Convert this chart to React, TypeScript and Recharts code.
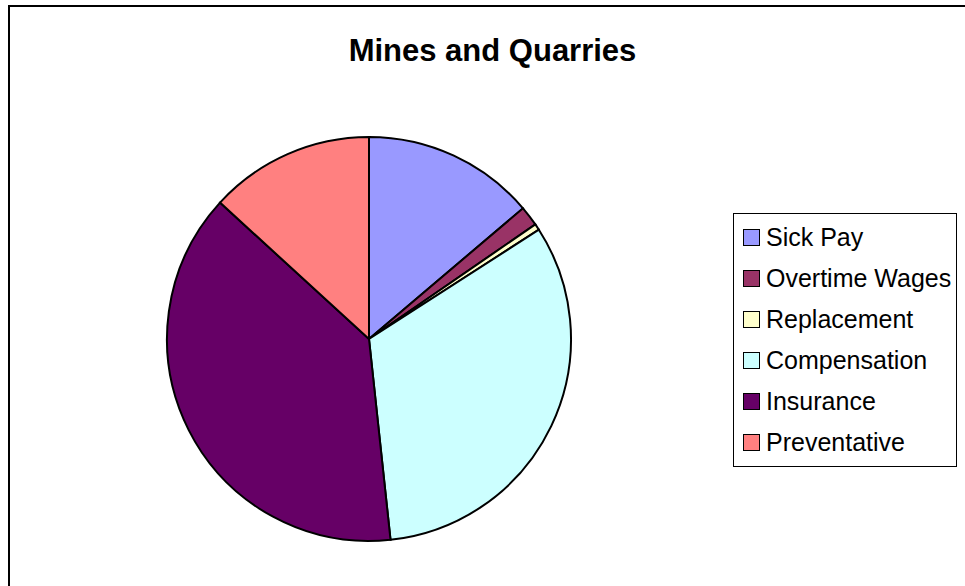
import React from 'react';
import { PieChart, Pie, Cell, Legend } from 'recharts';

const categories = ['Sick Pay', 'Overtime Wages', 'Replacement', 'Compensation', 'Insurance', 'Preventative'];
const shares = [13.8, 1.6, 0.5, 32.4, 38.5, 13.2];
const colors = ['#9999FF', '#993366', '#FFFFCC', '#CCFFFF', '#660066', '#FF8080'];

const data = categories.map((name, i) => ({ name, value: shares[i] }));

const renderLegend = () => (
  <div
    style={{
      border: '1px solid #000',
      background: '#fff',
      width: 224,
      height: 254,
      boxSizing: 'border-box',
      padding: '3px 0 0 9px',
      fontFamily: '"Liberation Sans", Arial, sans-serif',
      fontSize: 25,
      color: '#000',
    }}
  >
    {categories.map((name, i) => (
      <div key={name} style={{ display: 'flex', alignItems: 'center', height: 41, whiteSpace: 'nowrap' }}>
        <span
          style={{
            display: 'inline-block',
            flex: '0 0 auto',
            width: 15,
            height: 15,
            background: colors[i],
            border: '1.5px solid #000',
            marginRight: 6,
          }}
        />
        <span>{name}</span>
      </div>
    ))}
  </div>
);

export default function App() {
  return (
    <div style={{ position: 'absolute', left: 0, top: 0, width: 965, height: 586, overflow: 'hidden', background: '#fff' }}>
      <div
        style={{
          position: 'absolute',
          left: 8,
          top: 5,
          width: 980,
          height: 600,
          border: '2px solid #000',
        }}
      />
      <div
        style={{
          position: 'absolute',
          left: 0,
          top: 33,
          width: 985,
          textAlign: 'center',
          fontFamily: '"Liberation Sans", Arial, sans-serif',
          fontWeight: 'bold',
          fontSize: 31,
          color: '#000',
        }}
      >
        Mines and Quarries
      </div>
      <div style={{ position: 'absolute', left: 0, top: 0 }}>
        <PieChart width={965} height={586}>
          <Pie
            data={data}
            dataKey="value"
            nameKey="name"
            cx={364}
            cy={334}
            outerRadius={202}
            startAngle={90}
            endAngle={-270}
            stroke="#000"
            strokeWidth={2}
            isAnimationActive={false}
          >
            {data.map((d, i) => (
              <Cell key={d.name} fill={colors[i]} />
            ))}
          </Pie>
          <Legend
            content={renderLegend}
            layout="vertical"
            wrapperStyle={{ position: 'absolute', left: 733, top: 213, width: 224, height: 254 }}
          />
        </PieChart>
      </div>
    </div>
  );
}
